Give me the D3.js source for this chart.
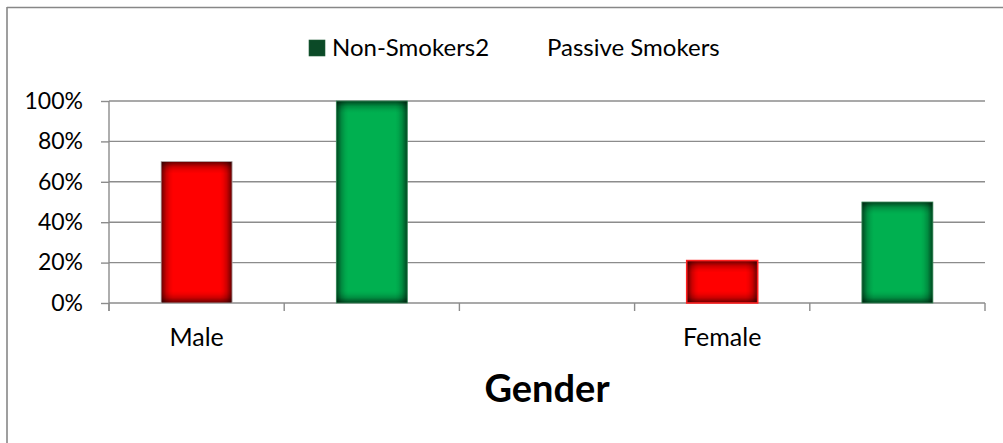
<!DOCTYPE html>
<html>
<head>
<meta charset="utf-8">
<script src="https://cdn.jsdelivr.net/npm/d3@7"></script>
<style>
  html, body { margin: 0; padding: 0; background: #fff; }
  svg { display: block; }
  text { font-family: Lato, "Open Sans", sans-serif; fill: #000; }
</style>
</head>
<body>
<div id="chart"></div>
<script>
// ---- data ----
const categories = ["Male", "", "", "Female", ""];
const seriesNames = ["Non-Smokers2", "Passive Smokers"];
const nonSmokers2 = [0.70, null, null, 0.21, null];     // red bars
const passiveSmokers = [null, 1.00, null, null, 0.50];   // green bars
const yTicks = [0, 0.2, 0.4, 0.6, 0.8, 1.0];

// ---- layout ----
const W = 1003, H = 443;
const plot = { left: 109, right: 985, top: 101, bottom: 303 };

const svg = d3.select("#chart").append("svg").attr("width", W).attr("height", H);
const defs = svg.append("defs");

// outer frame (left + top)
const frameColor = "#878787";
svg.append("line").attr("x1", 7).attr("x2", 7).attr("y1", 7).attr("y2", H)
  .attr("stroke", frameColor).attr("stroke-width", 1.6);
svg.append("line").attr("x1", 7).attr("x2", W).attr("y1", 7.5).attr("y2", 7.5)
  .attr("stroke", frameColor).attr("stroke-width", 1.6);

// scales
const x = d3.scaleBand().domain(d3.range(categories.length))
  .range([plot.left, plot.right]).paddingInner(0).paddingOuter(0);
const y = d3.scaleLinear().domain([0, 1]).range([plot.bottom, plot.top]);

const gridColor = "#8c8c8c";

// gridlines
svg.append("g").selectAll("line").data(yTicks.filter(d => d > 0)).join("line")
  .attr("x1", plot.left).attr("x2", plot.right)
  .attr("y1", d => y(d)).attr("y2", d => y(d))
  .attr("stroke", gridColor).attr("stroke-width", 1.4);

// y axis
const yAxis = d3.axisLeft(y).tickValues(yTicks).tickFormat(d3.format(".0%")).tickSize(8).tickPadding(18);
const gy = svg.append("g").attr("transform", `translate(${plot.left},0)`).call(yAxis);
gy.select(".domain").remove();
gy.selectAll(".tick line").attr("stroke", gridColor).attr("stroke-width", 1.4);
gy.selectAll(".tick text").attr("font-size", 23).attr("font-family", "Lato, sans-serif").attr("fill", "#000");
gy.append("line").attr("x1", 0).attr("x2", 0).attr("y1", plot.top).attr("y2", plot.bottom + 8)
  .attr("stroke", gridColor).attr("stroke-width", 1.4);

// x axis baseline and boundary ticks
const boundaries = d3.range(categories.length + 1).map(i => plot.left + i * x.bandwidth());
svg.append("line").attr("x1", plot.left).attr("x2", plot.right)
  .attr("y1", plot.bottom).attr("y2", plot.bottom).attr("stroke", gridColor).attr("stroke-width", 1.6);
svg.append("g").selectAll("line").data(boundaries).join("line")
  .attr("x1", d => d).attr("x2", d => d)
  .attr("y1", plot.bottom).attr("y2", plot.bottom + 8)
  .attr("stroke", gridColor).attr("stroke-width", 1.4);

// category labels
svg.append("g").selectAll("text").data(categories).join("text")
  .attr("x", (d, i) => x(i) + x.bandwidth() / 2)
  .attr("y", 346)
  .attr("text-anchor", "middle")
  .attr("font-size", 25)
  .text(d => d);

// bars
const barW = x.bandwidth() * 0.405;
const seriesData = [
  { name: seriesNames[0], values: nonSmokers2, fill: "#ff0000" },
  { name: seriesNames[1], values: passiveSmokers, fill: "#00b050" }
];
const bars = [];
seriesData.forEach((s, si) => s.values.forEach((v, i) => { if (v != null) bars.push({ si, i, v, fill: s.fill }); }));
bars.forEach((d, k) => {
  d.x0 = x(d.i) + (x.bandwidth() - barW) / 2;
  d.y0 = y(d.v);
  d.h = y(0) - y(d.v);
  d.id = k;
});

// edge-darkening gradients (Excel inner shadow look)
const edge = 12;
function addGrad(id, len) {
  const e = Math.min(0.45, edge / len);
  const g = defs.append("linearGradient").attr("id", id)
    .attr("x1", 0).attr("y1", 0)
    .attr("x2", id.startsWith("gh") ? 1 : 0).attr("y2", id.startsWith("gh") ? 0 : 1);
  const stops = [
    [0, 0.6], [e * 0.2, 0.42], [e * 0.45, 0.2], [e * 0.75, 0.06], [e, 0],
    [1 - e, 0], [1 - e * 0.75, 0.06], [1 - e * 0.45, 0.2], [1 - e * 0.2, 0.42], [1, 0.6]
  ];
  stops.forEach(([o, a]) => g.append("stop").attr("offset", o).attr("stop-color", "#000").attr("stop-opacity", a));
}
bars.forEach(d => { addGrad("gh" + d.id, barW); addGrad("gv" + d.id, d.h); });

const gb = svg.append("g");
gb.selectAll("rect.base").data(bars).join("rect").attr("class", "base")
  .attr("x", d => d.x0).attr("width", barW).attr("y", d => d.y0).attr("height", d => d.h)
  .attr("fill", d => d.fill);
gb.selectAll("rect.sh").data(bars).join("rect").attr("class", "sh")
  .attr("x", d => d.x0).attr("width", barW).attr("y", d => d.y0).attr("height", d => d.h)
  .attr("fill", d => `url(#gh${d.id})`);
gb.selectAll("rect.sv").data(bars).join("rect").attr("class", "sv")
  .attr("x", d => d.x0).attr("width", barW).attr("y", d => d.y0).attr("height", d => d.h)
  .attr("fill", d => `url(#gv${d.id})`);
gb.selectAll("rect.ol").data(bars).join("rect").attr("class", "ol")
  .attr("x", d => d.x0).attr("width", barW).attr("y", d => d.y0).attr("height", d => d.h)
  .attr("fill", "none")
  .attr("stroke", d => d.si === 0 ? (d.i === 3 ? "#ff2020" : "#b0b0b0") : "#3b8a5a")
  .attr("stroke-width", d => (d.si === 0 && d.i === 3) ? 1.6 : 0.8);

// legend
const lg = svg.append("g");
lg.append("rect").attr("x", 309).attr("y", 40).attr("width", 16).attr("height", 16)
  .attr("fill", "#0b4a27").attr("stroke", "#1e5a36").attr("stroke-width", 0.6);
lg.append("text").attr("x", 332).attr("y", 56).attr("font-size", 24).text(seriesNames[0]);
lg.append("text").attr("x", 547).attr("y", 56).attr("font-size", 24).text(seriesNames[1]);

// axis title
svg.append("text").attr("x", (plot.left + plot.right) / 2).attr("y", 402)
  .attr("text-anchor", "middle").attr("font-size", 38).attr("font-weight", "bold")
  .text("Gender");
</script>
</body>
</html>
